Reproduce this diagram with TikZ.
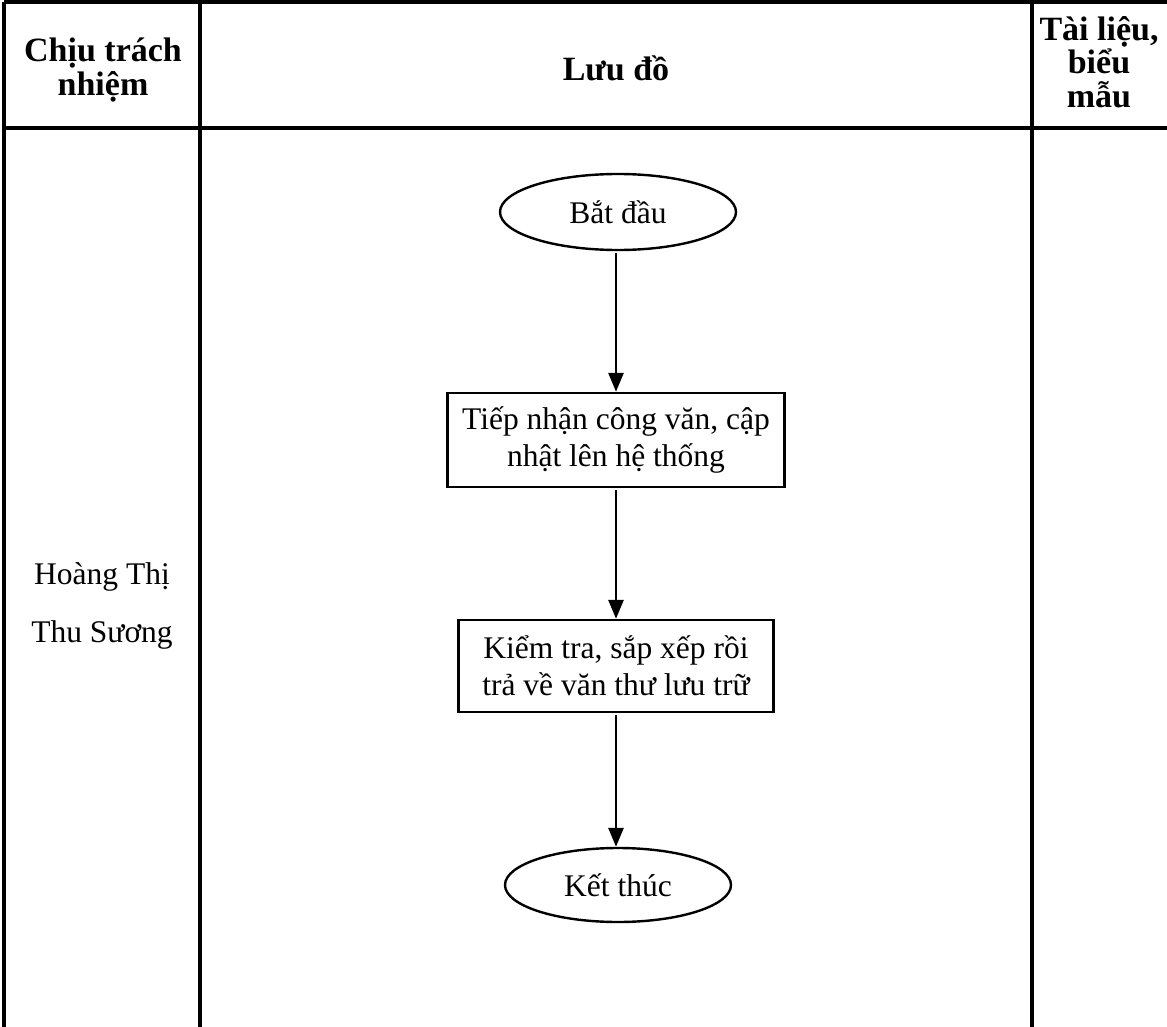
\documentclass[tikz,border=0pt]{standalone}
\usepackage{fontspec}
\setmainfont{Liberation Serif}
\usetikzlibrary{arrows.meta,shapes.geometric}
\begin{document}
\begin{tikzpicture}[x=1pt,y=-1pt,
  tline/.style={line width=3.2pt},
  headtext/.style={align=center, font=\bfseries\fontsize{34}{33.5}\selectfont, inner sep=0pt},
  bodytext/.style={align=center, font=\fontsize{31.5}{58}\selectfont, inner sep=0pt},
  flowbox/.style={draw, line width=2.4pt, rectangle, inner sep=0pt, align=center,
    font=\fontsize{31.5}{37}\selectfont},
  terminal/.style={draw, line width=2.4pt, ellipse, inner sep=0pt,
    font=\fontsize{31.5}{37}\selectfont},
  flowarrow/.style={line width=2.8pt, -{Triangle[length=19pt,width=15pt]}, shorten <=2pt}]
\useasboundingbox (0,0) rectangle (1167,1027);
% table
\coordinate (tl) at (4,2);
\coordinate (tr) at (1170,2);
\coordinate (bl) at (4,1030);
\coordinate (c1t) at (200,2);
\coordinate (c1b) at (200,1030);
\coordinate (c2t) at (1032,2);
\coordinate (c2b) at (1032,1030);
\coordinate (hl) at (4,128);
\coordinate (hr) at (1170,128);
\draw[tline] (tl) -- (tr);
\draw[tline] (hl) -- (hr);
\draw[tline] (tl) -- (bl);
\draw[tline] (c1t) -- (c1b);
\draw[tline] (c2t) -- (c2b);
% headers
\node[headtext] (h1) at (103,70) {Chịu trách\\nhiệm};
\node[headtext] (h2) at (616,68) {Lưu đồ};
\node[headtext] (h3) at (1099,62) {Tài liệu,\\biểu\\mẫu};
% responsible
\node[bodytext] (who) at (102,606) {Hoàng Thị\\Thu Sương};
% flow
\node[terminal, minimum width=236pt, minimum height=76pt] (start) at (618,212) {Bắt đầu};
\node[flowbox, minimum width=337pt, minimum height=94pt] (b1) at (616,440) {Tiếp nhận công văn, cập\\nhật lên hệ thống};
\node[flowbox, minimum width=315pt, minimum height=92pt] (b2) at (616,666) {Kiểm tra, sắp xếp rồi\\trả về văn thư lưu trữ};
\node[terminal, minimum width=226pt, minimum height=74pt] (end) at (618,885) {Kết thúc};
\draw[flowarrow] (start.south -| b1.north) -- (b1.north);
\draw[flowarrow] (b1) -- (b2);
\draw[flowarrow] (b2) -- (end.north -| b2.south);
\end{tikzpicture}
\end{document}
